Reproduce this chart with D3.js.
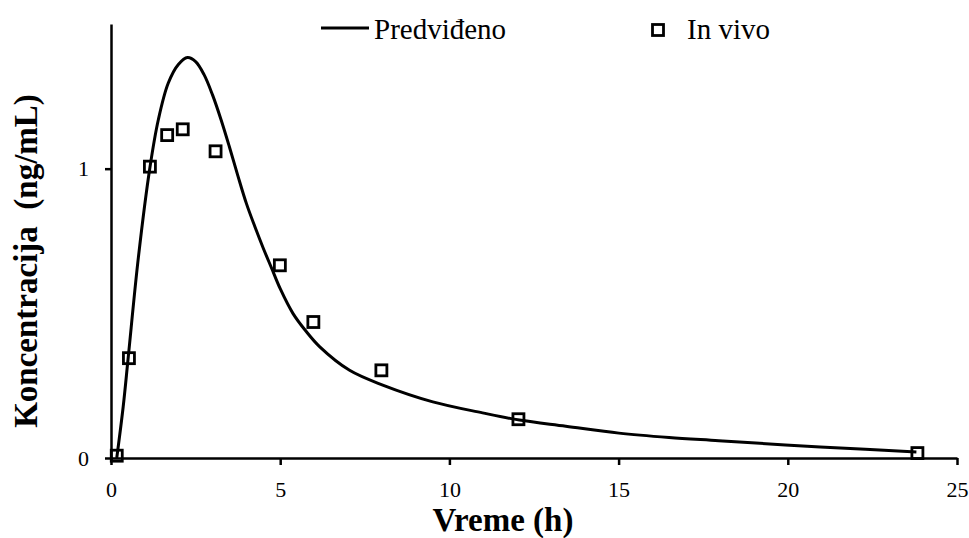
<!DOCTYPE html>
<html lang="sr">
<head>
    <meta charset="UTF-8">
    <title>Koncentracija - Predviđeno vs In vivo</title>
    <script src="https://d3js.org/d3.v7.min.js"></script>
    <style>
        body { margin: 0; background: #fff; }
        svg { display: block; font-family: "Liberation Serif", "Times New Roman", serif; }
        .axis text { font-family: "Liberation Serif", "Times New Roman", serif; font-size: 22px; fill: #000; }
        .axis path, .axis line { stroke: #000; stroke-width: 2.5; }
    </style>
</head>
<body>
    <div id="chart"></div>
    <script>
        // predicted curve
        const predTime = [0.17, 0.36, 0.51, 0.81, 1.15, 1.40, 1.69, 1.99, 2.26, 2.5, 2.75, 3.0, 3.25, 3.5, 3.75, 4.0, 4.25, 4.5, 4.75, 5.0, 5.38, 5.77, 6.17, 7.05, 8.03, 9.51, 10.98, 12.07, 13.44, 15.01, 16.49, 17.96, 19.93, 22.29, 23.8];
        const predConc = [0, 0.177, 0.349, 0.694, 1.004, 1.17, 1.295, 1.36, 1.384, 1.37, 1.325, 1.255, 1.17, 1.075, 0.975, 0.88, 0.8, 0.725, 0.655, 0.585, 0.499, 0.437, 0.384, 0.303, 0.252, 0.194, 0.156, 0.131, 0.11, 0.086, 0.071, 0.06, 0.045, 0.03, 0.021];

        // in vivo measurements
        const vivoTime = [0.17, 0.53, 1.15, 1.66, 2.12, 3.09, 4.99, 5.98, 7.99, 12.04, 23.83];
        const vivoConc = [0.008, 0.345, 1.007, 1.116, 1.136, 1.06, 0.666, 0.47, 0.303, 0.134, 0.017];

        const xTicks = [0, 5, 10, 15, 20, 25];
        const yTicks = [0, 1];

        const W = 969, H = 538;
        const svg = d3.select("#chart").append("svg")
            .attr("width", W)
            .attr("height", H);

        const x = d3.scaleLinear().domain([0, 25]).range([111, 957]);
        const y = d3.scaleLinear().domain([0, 1.5]).range([458, 24]);

        // x axis
        svg.append("g")
            .attr("class", "axis")
            .attr("transform", `translate(0,${y(0)})`)
            .call(d3.axisBottom(x).tickValues(xTicks).tickFormat(d3.format("d"))
                .tickSize(7).tickSizeOuter(0).tickPadding(16));

        // y axis
        svg.append("g")
            .attr("class", "axis")
            .attr("transform", `translate(${x(0)},0)`)
            .call(d3.axisLeft(y).tickValues(yTicks).tickFormat(d3.format("d"))
                .tickSize(6).tickSizeOuter(0).tickPadding(16));

        // axis titles
        svg.append("text")
            .attr("x", 503)
            .attr("y", 531)
            .attr("text-anchor", "middle")
            .style("font-size", "33px")
            .style("font-weight", "bold")
            .text("Vreme (h)");

        svg.append("text")
            .attr("transform", "translate(37,261) rotate(-90)")
            .attr("text-anchor", "middle")
            .attr("xml:space", "preserve")
            .style("font-size", "33px")
            .style("font-weight", "bold")
            .style("white-space", "pre")
            .text("Koncentracija  (ng/mL)");

        // predicted line
        const pred = predTime.map((t, i) => ({t: t, c: predConc[i]}));
        const line = d3.line()
            .x(d => x(d.t))
            .y(d => y(d.c))
            .curve(d3.curveCatmullRom.alpha(0.5));

        svg.append("path")
            .datum(pred)
            .attr("d", line)
            .attr("fill", "none")
            .attr("stroke", "#000")
            .attr("stroke-width", 3);

        // in vivo squares
        const vivo = vivoTime.map((t, i) => ({t: t, c: vivoConc[i]}));
        const s = 11;
        svg.selectAll(".pt")
            .data(vivo)
            .join("rect")
            .attr("class", "pt")
            .attr("x", d => x(d.t) - s / 2)
            .attr("y", d => y(d.c) - s / 2)
            .attr("width", s)
            .attr("height", s)
            .attr("fill", "none")
            .attr("stroke", "#000")
            .attr("stroke-width", 2.8);

        // legend
        const lg = svg.append("g");
        lg.append("line")
            .attr("x1", 321).attr("x2", 369)
            .attr("y1", 28).attr("y2", 28)
            .attr("stroke", "#000")
            .attr("stroke-width", 3);
        lg.append("text")
            .attr("x", 374)
            .attr("y", 39)
            .style("font-size", "29px")
            .text("Predviđeno");
        lg.append("rect")
            .attr("x", 658 - s / 2)
            .attr("y", 30 - s / 2)
            .attr("width", s)
            .attr("height", s)
            .attr("fill", "none")
            .attr("stroke", "#000")
            .attr("stroke-width", 2.8);
        lg.append("text")
            .attr("x", 687)
            .attr("y", 39)
            .style("font-size", "29px")
            .text("In vivo");
    </script>
</body>
</html>
